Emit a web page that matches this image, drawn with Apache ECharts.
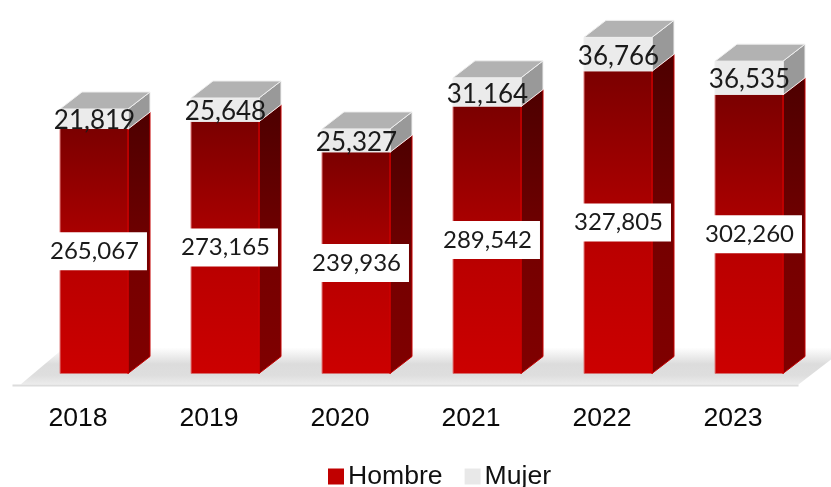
<!DOCTYPE html>
<html>
<head>
<meta charset="utf-8">
<script src="https://cdn.jsdelivr.net/npm/echarts@6/dist/echarts.min.js"></script>
<style>
  html, body { margin: 0; padding: 0; background: #fff; }
  #main { width: 831px; height: 487px; }
</style>
</head>
<body>
<div id="main"></div>
<script>
var years = ["2018", "2019", "2020", "2021", "2022", "2023"];
var hombre = [265067, 273165, 239936, 289542, 327805, 302260];
var mujer = [21819, 25648, 25327, 31164, 36766, 36535];

// caja 3D: ancho del frente, desplazamiento respecto a la categoria y profundidad
var barW = 68, shiftX = 16, depthX = 22, depthY = 17;

function grad(stops) {
  return new echarts.graphic.LinearGradient(0, 0, 0, 1, stops.map(function (s) {
    return { offset: s[0], color: s[1] };
  }));
}

function box(params, api, c) {
  var i = api.value(0);
  var low = api.coord([i, api.value(1)]);
  var high = api.coord([i, api.value(2)]);
  var x0 = low[0] + shiftX - barW / 2;
  var x1 = x0 + barW;
  var y0 = low[1], y1 = high[1];
  var back = function (x, y) { return [x + depthX, y - depthY]; };
  var kids = [
    {
      type: "polygon",
      shape: { points: [[x1, y0], back(x1, y0), back(x1, y1), [x1, y1]] },
      style: { fill: c.side, stroke: c.sideEdge, lineWidth: 1 },
    },
    {
      type: "rect",
      shape: { x: x0, y: y1, width: barW, height: y0 - y1 },
      style: { fill: c.front },
    },
    {
      type: "line",
      shape: { x1: x0, y1: y0, x2: x0, y2: y1 },
      style: { stroke: c.leftEdge, lineWidth: 1 },
    },
    {
      type: "line",
      shape: { x1: x1, y1: y0, x2: x1, y2: y1 },
      style: { stroke: c.rightEdge, lineWidth: 1.4 },
    },
  ];
  if (c.top) {
    kids.push({
      type: "polygon",
      shape: { points: [[x0, y1], [x1, y1], back(x1, y1), back(x0, y1)] },
      style: { fill: c.top, stroke: c.rightEdge, lineWidth: 1 },
    });
  }
  // etiqueta centrada sobre el frente
  kids.push({
    type: "text",
    z2: 50,
    style: {
      x: (x0 + x1) / 2 + c.labelDx,
      y: (y0 + y1) / 2 + c.labelDy,
      text: api.value(3).toLocaleString("en-US"),
      fill: "#1a1a1a",
      font: c.labelFont,
      align: "center",
      verticalAlign: "middle",
      backgroundColor: c.labelBg,
      padding: c.labelBg ? [7, 8, 7, 8] : 0,
    },
  });
  return { type: "group", children: kids };
}

function floor(params, api) {
  var g = params.coordSys;
  var y = api.coord([0, 0])[1];
  var fx = g.x, rx = g.x + g.width;
  var front = y + 11, backY = y - 26;
  return {
    type: "group",
    silent: true,
    children: [
      {
        type: "polygon",
        shape: { points: [[fx + 8, front], [fx + 52, backY], [rx + 48, backY], [rx, front]] },
        style: {
          fill: grad([[0, "#ffffff"], [0.45, "#dcdcdc"], [0.75, "#dedede"], [1, "#ececec"]]),
        },
      },
      {
        type: "line",
        shape: { x1: fx, y1: front + 1, x2: rx, y2: front + 1 },
        style: { stroke: "#dcdcdc", lineWidth: 2 },
      },
    ],
  };
}

var chart = echarts.init(document.getElementById("main"));
chart.setOption({
  animation: false,
  backgroundColor: "#fff",
  textStyle: { fontFamily: "Liberation Sans" },
  grid: { left: 12.5, right: 32.5, top: 4.7, bottom: 113.5 },
  legend: {
    data: ["Hombre", "Mujer"],
    left: 328,
    top: 463,
    padding: 0,
    icon: "rect",
    itemWidth: 16,
    itemHeight: 16,
    itemGap: 22,
    textStyle: { fontSize: 26.6, color: "#111", fontFamily: "Liberation Sans", padding: [3, 0, 0, -1] },
  },
  xAxis: {
    type: "category",
    data: years,
    axisLine: { show: false },
    axisTick: { show: false },
    axisLabel: { fontSize: 26.6, color: "#0a0a0a", margin: 32 },
  },
  yAxis: {
    type: "value",
    min: 0,
    max: 400000,
    show: false,
  },
  series: [
    {
      type: "custom",
      name: "suelo",
      data: [[0]],
      z: 1,
      silent: true,
      renderItem: floor,
    },
    {
      type: "custom",
      name: "Hombre",
      itemStyle: { color: "#c00000" },
      encode: { x: 0, y: 2 },
      data: hombre.map(function (v, i) { return [i, 0, v, v]; }),
      z: 3,
      renderItem: function (params, api) {
        return box(params, api, {
          front: grad([[0, "#7b0000"], [0.6, "#bb0000"], [1, "#cc0000"]]),
          side: grad([[0, "#4d0000"], [0.6, "#760000"], [1, "#800000"]]),
          sideEdge: "#c40000",
          leftEdge: "#e08080",
          rightEdge: "#cc0000",
          labelBg: "#fff",
          labelDx: 0.5,
          labelDy: 0,
          labelFont: "24px Lato",
        });
      },
    },
    {
      type: "custom",
      name: "Mujer",
      itemStyle: { color: "#e8e8e8" },
      encode: { x: 0, y: 2 },
      data: mujer.map(function (v, i) { return [i, hombre[i], hombre[i] + v, v]; }),
      z: 4,
      renderItem: function (params, api) {
        return box(params, api, {
          front: "#ebebeb",
          side: "#999999",
          top: "#b2b2b2",
          sideEdge: "#efefef",
          leftEdge: "#efefef",
          rightEdge: "#efefef",
          labelBg: null,
          labelDx: 0.5,
          labelDy: 2,
          labelFont: "26px Lato",
        });
      },
    },
  ],
});
</script>
</body>
</html>
